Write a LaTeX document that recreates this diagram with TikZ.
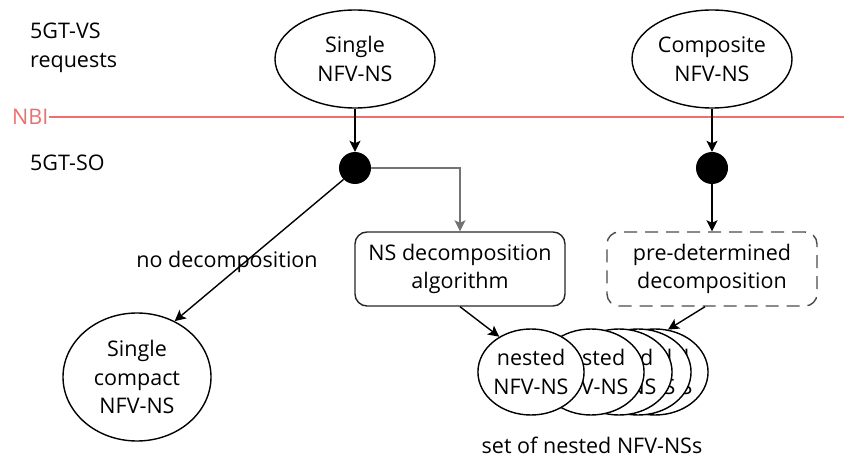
\documentclass[tikz,border=0pt]{standalone}
\usepackage{fontspec}
\setmainfont{Open Sans}
\usetikzlibrary{shapes.geometric,arrows.meta}
\definecolor{nbired}{RGB}{240,110,110}
\begin{document}
\begin{tikzpicture}[x=1pt,y=-1pt,
  every node/.style={font=\fontsize{21.5}{28.5}\selectfont, inner sep=0pt},
  arr/.style={line width=1.4pt, -{Stealth[length=11pt,width=11pt,inset=2.5pt]}},
  ell/.style={ellipse, draw, line width=1.4pt, fill=white, align=center},
  dot/.style={circle, fill=black, minimum size=32pt, inner sep=0pt},
  procbox/.style={draw, rounded corners=12pt, line width=1.4pt, align=center,
    minimum width=210pt, minimum height=74pt},
  txt/.style={align=left, anchor=west}
]
\useasboundingbox (0,0) rectangle (844,457);

% layer labels
\node[txt] (vs) at (30,48) {5GT-VS\\requests};
\node[txt] (so) at (30,163) {5GT-SO};

% northbound interface
\node[anchor=west, text=nbired] (nbi) at (12,117) {NBI};
\coordinate (nbiend) at (844,117);
\draw[nbired, line width=1.6pt] (nbi.east) -- (nbiend);

% requests
\node[ell, minimum width=160pt, minimum height=98pt] (single) at (355,59) {Single\\NFV-NS};
\node[ell, minimum width=160pt, minimum height=98pt] (composite) at (712,59) {Composite\\NFV-NS};

% decision points
\node[dot] (d1) at (355,168) {};
\node[dot] (d2) at (712,168) {};

% processing blocks
\node[procbox, draw=black!85] (nsalg) at (460,269) {NS decomposition\\algorithm};
\node[procbox, draw=black!70, dash pattern=on 13pt off 8pt] (predet) at (712,269) {pre-determined\\decomposition};

% results
\node[ell, minimum width=148pt, minimum height=128pt] (compact) at (137,377) {Single\\compact\\NFV-NS};

\foreach \nm/\cx in {n5/655, n4/638, n3/619, n2/591, n1/531}{
  \node[ell, minimum width=103pt, minimum height=86pt] (\nm) at (\cx,372) {nested\\NFV-NS};
}
\node (setlbl) at (592,445) {set of nested NFV-NSs};

% connectors
\draw[arr] (single) -- (d1);
\draw[arr] (composite) -- (d2);
\draw[arr, draw=black!55, line width=2pt] (d1.east) -| (nsalg.north);
\draw[arr] (d2) -- (predet);
\draw[arr] (d1.225) -- (compact.56);
\node (nodec) at (227,262) {no decomposition};
\draw[arr] (nsalg.south) -- (n1.132);
\draw[arr] ([xshift=-7pt]predet.south) -- (n5.73);
\end{tikzpicture}
\end{document}
